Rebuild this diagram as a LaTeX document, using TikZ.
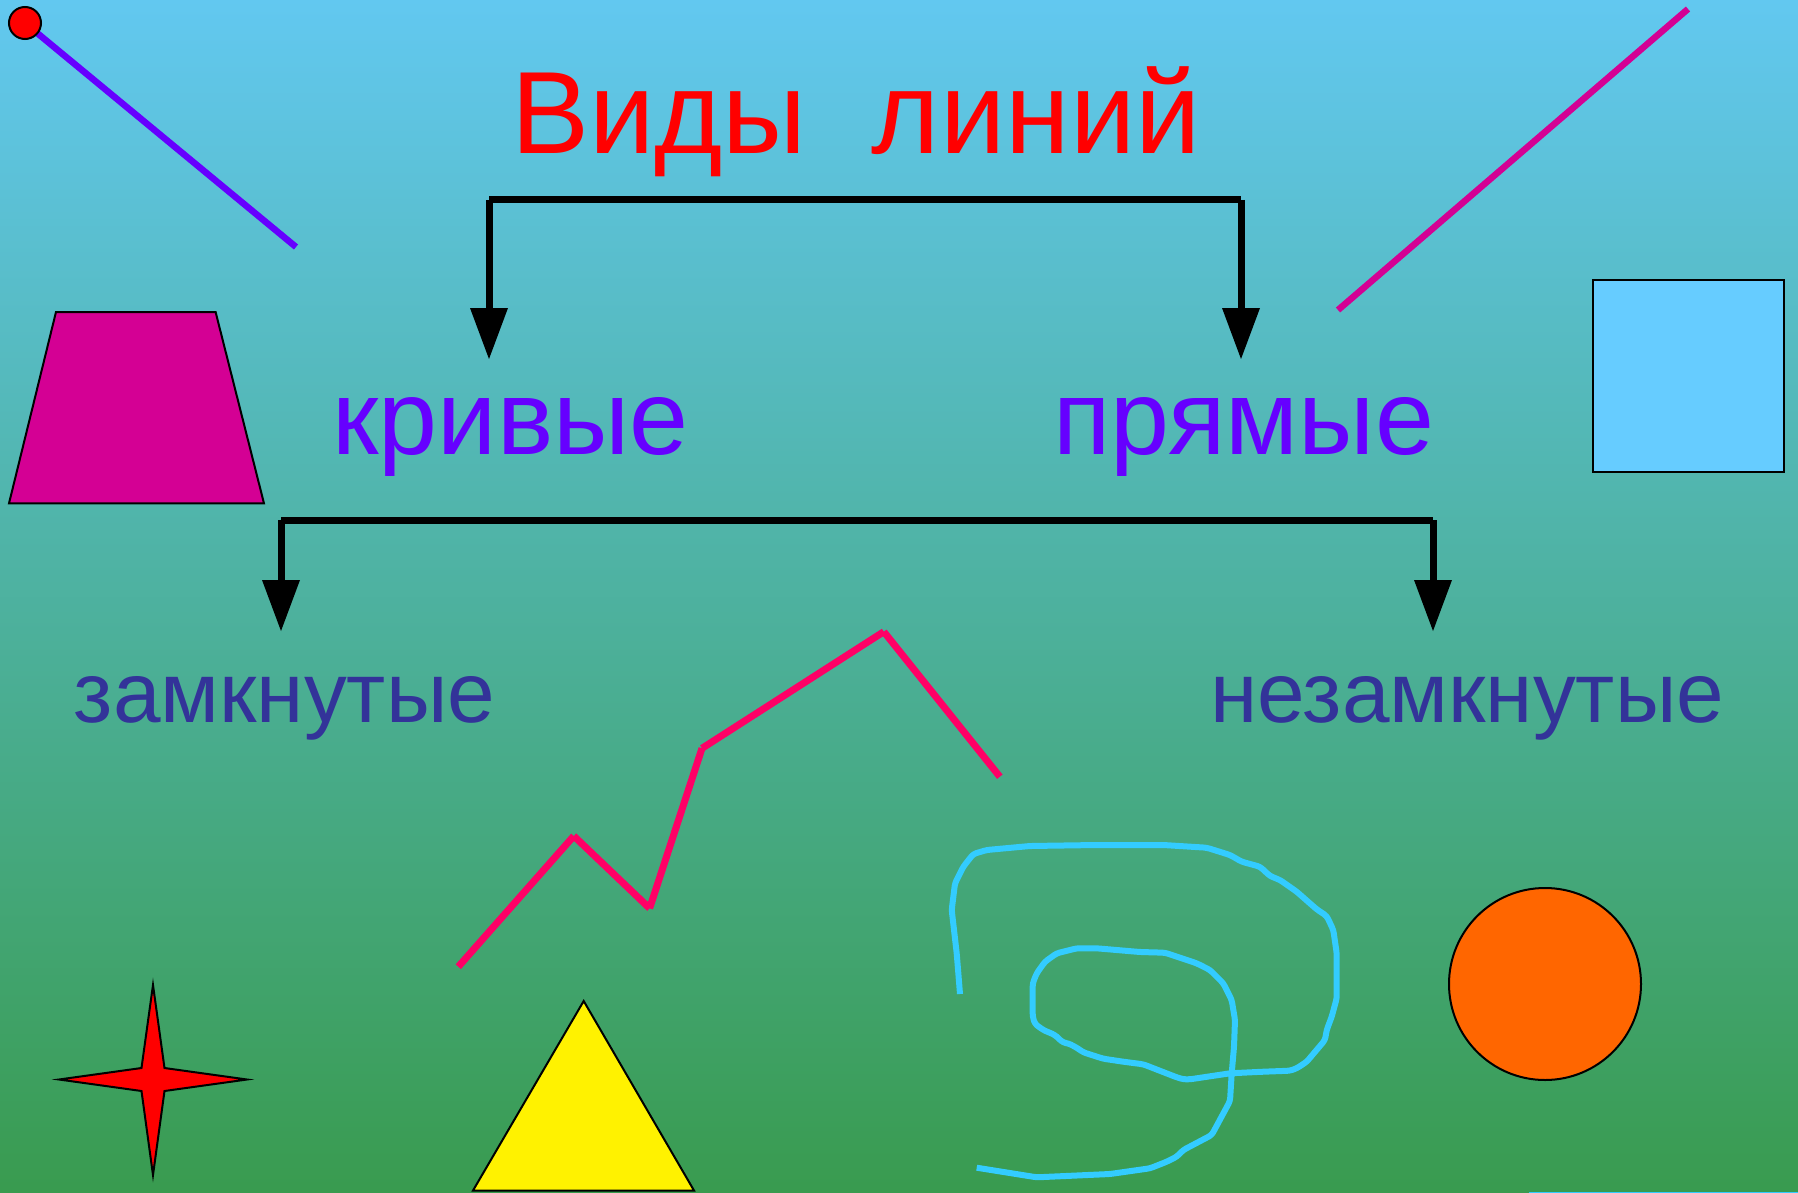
\documentclass[tikz,border=0pt]{standalone}
\usepackage{fontspec}
\setmainfont{Liberation Sans}
\usetikzlibrary{arrows.meta}
\definecolor{bgtop}{RGB}{98,200,240}
\definecolor{bgbot}{RGB}{57,155,79}
\definecolor{myviolet}{RGB}{102,0,255}
\definecolor{navytext}{RGB}{51,51,153}
\definecolor{magen}{RGB}{212,0,148}
\definecolor{sqblue}{RGB}{102,204,255}
\definecolor{curvecyan}{RGB}{51,204,255}
\definecolor{zigred}{RGB}{255,0,102}
\definecolor{orng}{RGB}{255,102,0}
\begin{document}
\begin{tikzpicture}[x=1pt,y=-1pt,
  lbl/.style={inner sep=0pt, anchor=base},
  bigfont/.style={font=\fontsize{117}{120}\selectfont},
  midfont/.style={font=\fontsize{106}{110}\selectfont},
  smallfont/.style={font=\fontsize{85.5}{90}\selectfont},
  bar/.style={line width=7pt, line cap=butt},
  arr/.style={bar, -{Triangle[length=51pt,width=38pt,line width'=0pt]}},
  shapeline/.style={draw=black, line width=2pt},
  zig/.style={zigred, line width=7pt, line cap=butt},
  thinline/.style={line width=6.5pt, line cap=butt}]

\useasboundingbox (0,0) rectangle (1798,1193);
\shade[top color=bgtop, bottom color=bgbot] (0,0) rectangle (1798,1193);

% decorative lines and shapes
\draw[thinline, myviolet] (25,23) -- (296,247);
\filldraw[fill=red, shapeline] (25,23) circle[radius=16pt];
\draw[thinline, magen] (1338,310) -- (1688,9);

\filldraw[fill=magen, shapeline] (56,312) -- (215.6,312) -- (264,503.4) -- (9,503.4) -- cycle;
\filldraw[fill=sqblue, shapeline] (1593,280) rectangle (1784,471.5);

\filldraw[fill=red, shapeline] (153,985) -- (164.5,1068) -- (247,1079.5) -- (164.5,1091) -- (153,1175) -- (141.5,1091) -- (59,1079.5) -- (141.5,1068) -- cycle;
\filldraw[fill=yellow, shapeline] (583.7,1001) -- (694,1190.5) -- (473,1190.5) -- cycle;
\filldraw[fill=orng, shapeline] (1545,984) circle[radius=96pt];

% zigzag
\draw[zig] (458.3,966.7) -- (573.8,836);
\draw[zig] (573.8,836) -- (649.6,908.3);
\draw[zig] (649.6,908.3) -- (702,748.3);
\draw[zig] (702,748.3) -- (883.8,631.7);
\draw[zig] (883.8,631.7) -- (999.8,776.7);

% scribble
\draw[curvecyan, line width=6pt, line join=round, rounded corners=3pt]
 (960,994) -- (956.7,953.3) -- (951.7,910) -- (955,883.3) -- (963.3,866.7) -- (973.3,854) -- (986.7,850) -- (1030,846) -- (1096.7,845) -- (1163.3,845) -- (1206.7,847.7) -- (1230,855) -- (1241.7,861.7) -- (1260,866.7) -- (1270,876) -- (1280,880) -- (1296.7,891.7) -- (1316.7,909.3) -- (1326.7,916) -- (1333.3,930) -- (1336.7,953.3) -- (1336.7,998.3) -- (1331.7,1016.7) -- (1326.7,1030) -- (1325,1040) -- (1306.7,1061.7) -- (1296.7,1068.3) -- (1290,1070.7) -- (1263.3,1071.7) -- (1230,1073.3) -- (1190,1079.3) -- (1183.3,1079.3) -- (1176.7,1077.3) -- (1143.3,1064.3) -- (1123.3,1061.7) -- (1103.3,1058.7) -- (1083.3,1052.3) -- (1076.7,1047.7) -- (1068.3,1043.3) -- (1063.3,1042.7) -- (1058.3,1038.3) -- (1055,1035) -- (1043.3,1030) -- (1035,1024) -- (1032.7,1016.7) -- (1032.7,983.3) -- (1036.7,973.3) -- (1045,961.7) -- (1056.7,953.3) -- (1076.7,948.3) -- (1096.7,948.3) -- (1140,952) -- (1165,952.7) -- (1196.7,963.3) -- (1210,970) -- (1223.3,983.3) -- (1231.7,1000) -- (1235,1020) -- (1234,1046.7) -- (1231.7,1073.3) -- (1230,1101) -- (1211.7,1135) -- (1183.3,1150) -- (1176.7,1156.7) -- (1166.7,1161.7) -- (1150,1168.3) -- (1110,1174) -- (1036.7,1177.3) -- (976.7,1167.7);
\draw[curvecyan, line width=2pt] (1529,1193) -- (1798,1193);

% texts
\node[lbl, bigfont, text=red] (title) at (856,154) {Виды~~линий};
\node[lbl, midfont, text=myviolet] (krivye) at (510.5,454) {кривые};
\node[lbl, midfont, text=myviolet] (pryamye) at (1243.5,454) {прямые};
\node[lbl, smallfont, text=navytext] (zamk) at (284.5,722) {замкнутые};
\node[lbl, smallfont, text=navytext] (nezamk) at (1467,722) {незамкнутые};

% connectors
\coordinate (b1l) at (489,200);
\coordinate (b1r) at (1241,200);
\coordinate (t1l) at (489,359);
\coordinate (t1r) at (1241,359);
\coordinate (b2l) at (281,520);
\coordinate (b2r) at (1433,520);
\coordinate (t2l) at (281,631);
\coordinate (t2r) at (1433,631);
\draw[bar] (b1l) -- (b1r);
\draw[arr] (b1l) -- (t1l);
\draw[arr] (b1r) -- (t1r);
\draw[bar] (b2l) -- (b2r);
\draw[arr] (b2l) -- (t2l);
\draw[arr] (b2r) -- (t2r);
\end{tikzpicture}
\end{document}
